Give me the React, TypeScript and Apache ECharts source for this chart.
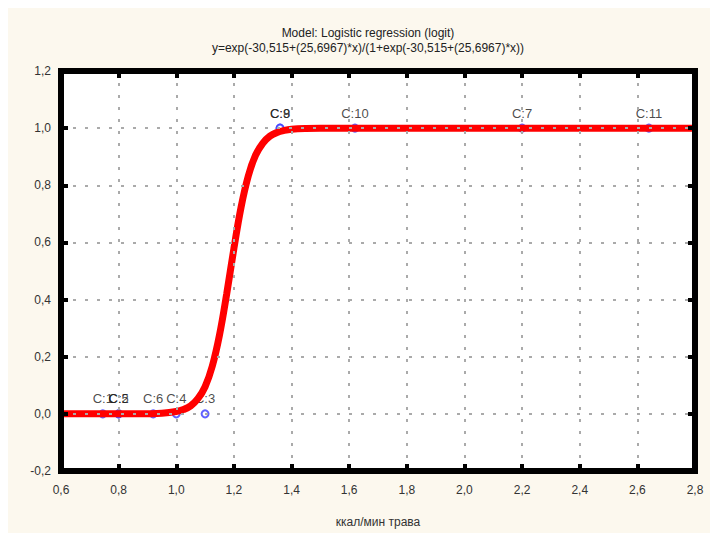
import React, { useEffect, useRef } from "react";
import * as echarts from "echarts";

const titleLine1 = "Model: Logistic regression (logit)";
const titleLine2 = "y=exp(-30,515+(25,6967)*x)/(1+exp(-30,515+(25,6967)*x))";
const xAxisName = "ккал/мин трава";

const caseNames = ["C:1", "C:2", "C:3", "C:4", "C:5", "C:6", "C:7", "C:8", "C:9", "C:10", "C:11"];
const caseX = [0.745, 0.8, 1.1, 1.0, 0.8, 0.92, 2.2, 1.36, 1.36, 1.62, 2.64];
const caseY = [0, 0, 0, 0, 0, 0, 1, 1, 1, 1, 1];

const curveX = [0.6, 0.7, 0.8, 0.9, 0.95, 1.0, 1.025, 1.05, 1.075, 1.1, 1.125, 1.15, 1.175, 1.2, 1.225, 1.25, 1.275, 1.3, 1.325, 1.35, 1.375, 1.4, 1.45, 1.5, 1.7, 2.0, 2.4, 2.8];
const curveY = [0.0, 0.0, 0.0, 0.0006, 0.002, 0.008, 0.015, 0.028, 0.053, 0.095, 0.167, 0.276, 0.42, 0.579, 0.724, 0.833, 0.905, 0.947, 0.972, 0.985, 0.992, 0.996, 0.999, 1.0, 1.0, 1.0, 1.0, 1.0];

const FONT = "'Liberation Sans', Arial, sans-serif";
const fmt = (v: number) => v.toFixed(1).replace(".", ",");

export default function App() {
  const ref = useRef<HTMLDivElement>(null);
  useEffect(() => {
    if (!ref.current) return;
    const chart = echarts.init(ref.current, null, { renderer: "svg" });
    const tickStyle = { show: true, inside: true, length: 7, lineStyle: { color: "#000", width: 4 } };
    const frameLine = { show: true, onZero: false, lineStyle: { color: "#000", width: 6, cap: "square" } };
    const dotted = { show: true, lineStyle: { color: "#aaaaaa", width: 2, type: [3, 9] } };
    chart.setOption({
      animation: false,
      backgroundColor: "#fcf8ee",
      title: {
        text: titleLine1 + "\n" + titleLine2,
        left: 355,
        top: 12,
        textAlign: "center",
        textStyle: { fontFamily: FONT, fontSize: 12, fontWeight: "normal", color: "#222", lineHeight: 15 },
      },
      grid: {
        left: 53,
        right: 15,
        top: 63,
        bottom: 62,
        show: true,
        backgroundColor: "#ffffff",
        borderWidth: 0,
      },
      xAxis: [
        {
          type: "value",
          position: "bottom",
          min: 0.6,
          max: 2.8,
          interval: 0.2,
          name: xAxisName,
          nameLocation: "middle",
          nameGap: 45,
          nameTextStyle: { fontFamily: FONT, fontSize: 12, color: "#333" },
          axisLine: frameLine,
          axisTick: tickStyle,
          axisLabel: { formatter: fmt, fontFamily: FONT, fontSize: 12, color: "#333", margin: 13 },
          splitLine: dotted,
          z: 5,
        },
        {
          type: "value",
          position: "top",
          min: 0.6,
          max: 2.8,
          interval: 0.2,
          axisLine: frameLine,
          axisTick: tickStyle,
          axisLabel: { show: false },
          splitLine: { show: false },
          z: 5,
        },
      ],
      yAxis: [
        {
          type: "value",
          position: "left",
          min: -0.2,
          max: 1.2,
          interval: 0.2,
          axisLine: frameLine,
          axisTick: tickStyle,
          axisLabel: { formatter: fmt, fontFamily: FONT, fontSize: 12, color: "#333", margin: 10 },
          splitLine: dotted,
          z: 5,
        },
        {
          type: "value",
          position: "right",
          min: -0.2,
          max: 1.2,
          interval: 0.2,
          axisLine: frameLine,
          axisTick: tickStyle,
          axisLabel: { show: false },
          splitLine: { show: false },
          z: 5,
        },
      ],
      series: [
        {
          type: "scatter",
          xAxisIndex: 0,
          yAxisIndex: 0,
          data: caseX.map((x, i) => ({ value: [x, caseY[i]], name: caseNames[i] })),
          symbol: "emptyCircle",
          symbolSize: 7,
          itemStyle: { color: "#3a3aff", borderColor: "#3a3aff", borderWidth: 1.5 },
          label: {
            show: true,
            position: "top",
            distance: 4,
            formatter: (p: any) => p.name,
            fontFamily: FONT,
            fontSize: 13,
            color: "#1a1a1a",
          },
          z: 2,
        },
        {
          type: "line",
          xAxisIndex: 0,
          yAxisIndex: 0,
          data: curveX.map((x, i) => [x, curveY[i]]),
          smooth: 0.4,
          showSymbol: false,
          lineStyle: { color: "#ff0000", width: 7 },
          z: 3,
        },
      ],
    });
    return () => chart.dispose();
  }, []);
  return (
    <div
      ref={ref}
      style={{ position: "absolute", left: 8, top: 8, width: 702, height: 525 }}
    />
  );
}
